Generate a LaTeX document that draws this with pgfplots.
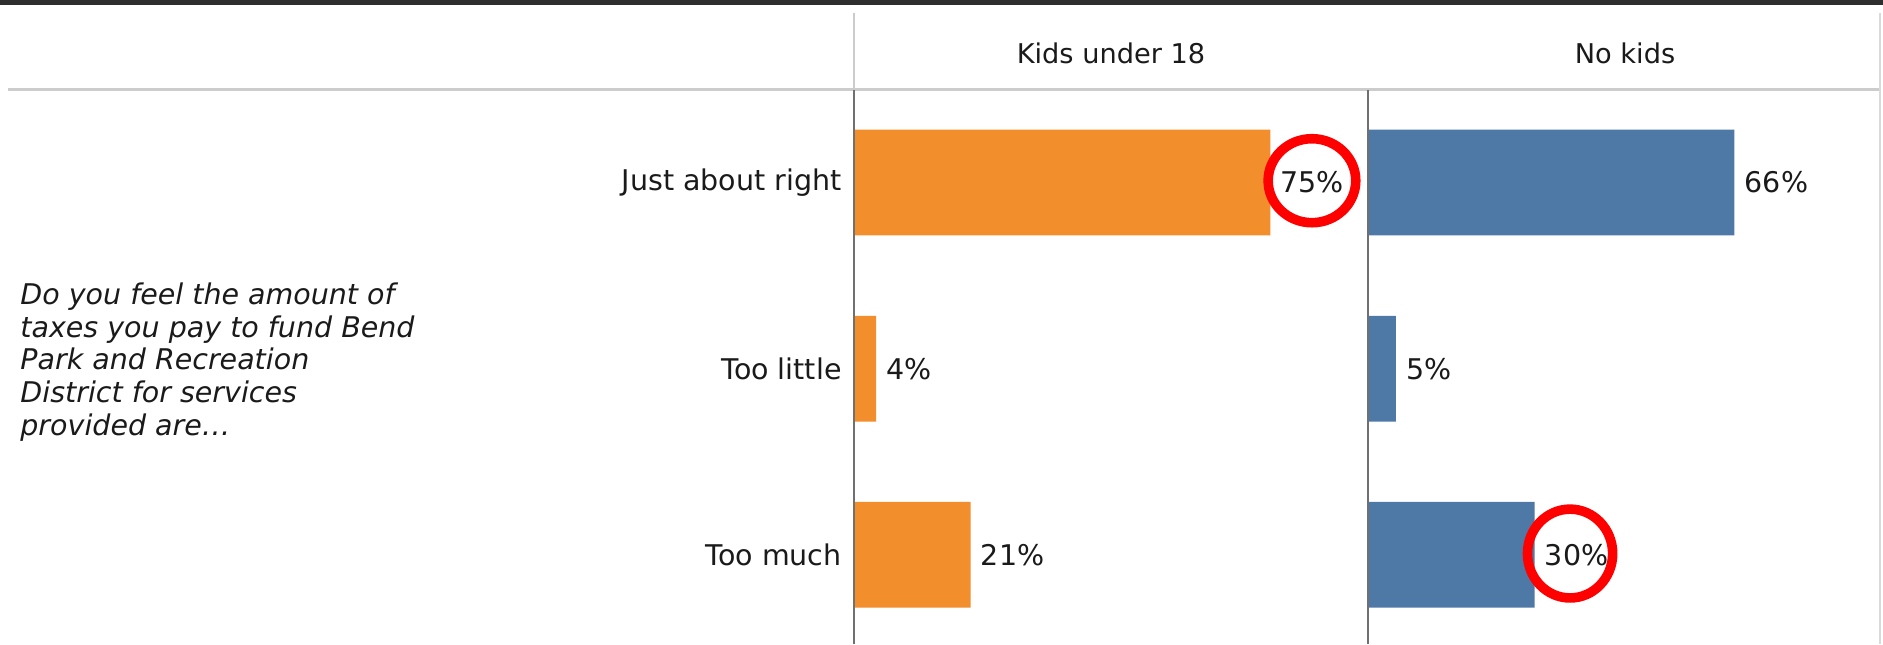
\documentclass[border=0pt]{standalone}
\usepackage{fontspec}
\setmainfont{DejaVu Sans}
\usepackage{pgfplots}
\pgfplotsset{compat=1.18}
\definecolor{kidsorange}{HTML}{F28E2B}
\definecolor{nokidsblue}{HTML}{4E79A7}
\definecolor{topbar}{HTML}{2E2E2E}
\definecolor{axisgray}{HTML}{707070}
\definecolor{sepgray}{HTML}{CCCCCC}
\definecolor{bordergray}{HTML}{DADADA}
\definecolor{txt}{HTML}{1A1A1A}
\newcommand{\lblfont}{\fontsize{14.25pt}{16.35pt}\selectfont}
\pgfplotsset{
  panel/.style={
    xbar, scale only axis, width=257pt, height=277.25pt,
    anchor=south west,
    xmin=0, xmax=92.6, ymin=-0.479, ymax=2.5,
    axis line style={draw=none},
    xtick=\empty, ytick={0,1,2},
    major tick length=0pt,
    bar width=52.85pt,
    clip=false,
    /pgf/number format/assume math mode=true,
    point meta=x,
    nodes near coords={\pgfmathprintnumber{\pgfplotspointmeta}\%},
    nodes near coords style={font=\lblfont, text=txt, anchor=west, inner sep=0pt, xshift=5pt},
    yticklabel style={font=\lblfont, text=txt, anchor=east, inner sep=0pt, xshift=-6pt},
  }
}
\begin{document}
\begin{tikzpicture}
% frame decorations
\fill[topbar] (0pt,319.5pt) rectangle (941.5pt,322pt);
\draw[sepgray, line width=1.3pt] (4pt,277.25pt) -- (940pt,277.25pt);
\draw[sepgray, line width=0.8pt] (427pt,315.5pt) -- (427pt,277.25pt);
\draw[bordergray, line width=1pt] (940pt,315.5pt) -- (940pt,0pt);
% header texts
\node[font=\fontsize{13.6pt}{16pt}\selectfont, text=txt] at (555.5pt,295.5pt) {Kids under 18};
\node[font=\fontsize{13.6pt}{16pt}\selectfont, text=txt] at (812.5pt,295.5pt) {No kids};
% question text
\node[anchor=west, align=left, inner sep=0pt, text=txt,
      font=\fontsize{14.25pt}{16.35pt}\selectfont\itshape] at (10pt,141pt)
  {Do you feel the amount of\\taxes you pay to fund Bend\\Park and Recreation\\District for services\\provided are…};

% Panel 1: Kids under 18
\begin{axis}[panel, at={(427pt,0pt)},
  yticklabels={Too much, Too little, Just about right}]
\addplot[fill=kidsorange, draw=none] coordinates {(21,0) (4,1) (75,2)};
\draw[axisgray, line width=0.75pt] (rel axis cs:0,0) -- (rel axis cs:0,1);
\draw[red, line width=4.8pt] (axis cs:82.5,2.01) ellipse [x radius=21.9pt, y radius=21pt];
\end{axis}

% Panel 2: No kids
\begin{axis}[panel, at={(684pt,0pt)}, yticklabels={}]
\addplot[fill=nokidsblue, draw=none] coordinates {(30,0) (5,1) (66,2)};
\draw[axisgray, line width=0.75pt] (rel axis cs:0,0) -- (rel axis cs:0,1);
\draw[red, line width=4.8pt] (axis cs:36.4,0.007) ellipse [x radius=21.3pt, y radius=22.2pt];
\end{axis}

\pgfresetboundingbox
\path[use as bounding box] (0pt,0pt) rectangle (941.5pt,322pt);
\end{tikzpicture}
\end{document}
